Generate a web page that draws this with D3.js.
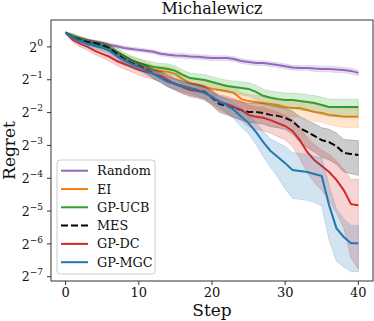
<!DOCTYPE html>
<html>
<head>
<meta charset="utf-8">
<script src="https://cdn.jsdelivr.net/npm/d3@7"></script>
<style>
  body { margin: 0; background: #fff; }
  svg { display: block; font-family: "DejaVu Serif", serif; }
</style>
</head>
<body>
<div id="chart"></div>
<script>
// regret per step, stored as log2(regret)
const steps = d3.range(0, 41);

const randomLog2 = [0.43,0.34,0.27,0.21,0.15,0.12,0.06,0.02,-0.03,-0.06,
  -0.09,-0.12,-0.15,-0.21,-0.24,-0.26,-0.27,-0.29,-0.30,-0.32,
  -0.34,-0.34,-0.34,-0.37,-0.43,-0.46,-0.49,-0.49,-0.52,-0.55,
  -0.59,-0.63,-0.64,-0.64,-0.66,-0.67,-0.67,-0.69,-0.70,-0.73,-0.79];
const eiLog2 = [0.43,0.34,0.24,0.15,0.09,0.03,-0.06,-0.21,-0.34,-0.43,
  -0.52,-0.61,-0.70,-0.73,-0.76,-0.82,-0.98,-1.10,-1.16,-1.22,
  -1.28,-1.31,-1.34,-1.40,-1.59,-1.65,-1.68,-1.71,-1.74,-1.77,
  -1.83,-1.86,-1.86,-1.92,-1.98,-2.01,-2.07,-2.10,-2.13,-2.13,-2.13];
const ucbLog2 = [0.43,0.34,0.24,0.15,0.09,0.03,-0.03,-0.15,-0.27,-0.40,
  -0.49,-0.55,-0.61,-0.64,-0.67,-0.73,-0.85,-0.95,-0.98,-1.01,
  -1.07,-1.13,-1.19,-1.22,-1.25,-1.28,-1.37,-1.49,-1.55,-1.59,
  -1.62,-1.62,-1.65,-1.68,-1.71,-1.77,-1.83,-1.83,-1.83,-1.83,-1.83];
const mesLog2 = [0.43,0.27,0.21,0.15,0.12,0.06,-0.03,-0.21,-0.37,-0.49,
  -0.58,-0.67,-0.82,-0.91,-1.04,-1.13,-1.22,-1.28,-1.31,-1.37,
  -1.55,-1.74,-1.80,-1.86,-1.92,-1.98,-1.98,-2.01,-2.07,-2.10,
  -2.16,-2.26,-2.47,-2.59,-2.71,-2.84,-2.90,-3.02,-3.23,-3.26,-3.29];
const dcLog2 = [0.43,0.21,0.09,0.00,-0.12,-0.21,-0.30,-0.43,-0.52,-0.61,
  -0.70,-0.76,-0.82,-0.88,-1.01,-1.13,-1.22,-1.31,-1.34,-1.40,
  -1.52,-1.68,-1.74,-1.83,-1.92,-2.07,-2.13,-2.16,-2.23,-2.32,
  -2.41,-2.56,-2.84,-3.20,-3.45,-3.63,-3.81,-4.05,-4.36,-4.79,-4.82];
const mgcLog2 = [0.43,0.27,0.18,0.09,0.03,-0.03,-0.12,-0.27,-0.40,-0.52,
  -0.61,-0.70,-0.82,-0.95,-1.07,-1.13,-1.19,-1.25,-1.31,-1.40,
  -1.52,-1.65,-1.77,-1.92,-2.13,-2.32,-2.59,-2.90,-3.17,-3.35,
  -3.54,-3.75,-3.78,-3.81,-3.87,-3.93,-4.82,-5.52,-5.79,-5.98,-5.98];

// spread of the band, as a fraction of the mean regret
const randomSpread = [0.02,0.03,0.03,0.03,0.03,0.04,0.04,0.04,0.04,0.04,
  0.04,0.04,0.04,0.04,0.04,0.05,0.05,0.05,0.05,0.05,
  0.05,0.05,0.05,0.05,0.05,0.05,0.05,0.05,0.05,0.05,
  0.05,0.05,0.05,0.05,0.06,0.06,0.06,0.06,0.06,0.06,0.06];
const eiSpread = [0.02,0.04,0.05,0.06,0.06,0.07,0.07,0.08,0.08,0.09,
  0.10,0.10,0.10,0.11,0.11,0.11,0.12,0.12,0.12,0.13,
  0.13,0.13,0.14,0.14,0.15,0.15,0.15,0.16,0.16,0.16,
  0.17,0.17,0.17,0.18,0.18,0.18,0.19,0.19,0.20,0.20,0.20];
const ucbSpread = [0.02,0.04,0.05,0.06,0.06,0.07,0.07,0.08,0.08,0.09,
  0.10,0.10,0.10,0.10,0.11,0.11,0.11,0.11,0.12,0.12,
  0.12,0.12,0.13,0.13,0.14,0.14,0.15,0.15,0.15,0.16,
  0.16,0.16,0.17,0.17,0.17,0.18,0.18,0.18,0.18,0.18,0.18];
const mesSpread = [0.02,0.04,0.05,0.05,0.06,0.06,0.07,0.07,0.08,0.08,
  0.08,0.09,0.10,0.11,0.12,0.12,0.13,0.13,0.14,0.14,
  0.15,0.16,0.17,0.18,0.19,0.20,0.21,0.21,0.22,0.22,
  0.22,0.24,0.26,0.28,0.29,0.30,0.31,0.32,0.33,0.34,0.35];
const dcSpread = [0.02,0.05,0.06,0.07,0.08,0.08,0.09,0.09,0.10,0.10,
  0.10,0.11,0.11,0.12,0.12,0.13,0.13,0.14,0.14,0.15,
  0.15,0.16,0.18,0.19,0.20,0.22,0.23,0.24,0.24,0.25,
  0.25,0.28,0.32,0.35,0.38,0.40,0.45,0.50,0.55,0.68,0.74];
const mgcSpread = [0.02,0.04,0.05,0.06,0.06,0.07,0.07,0.07,0.08,0.08,
  0.08,0.09,0.09,0.10,0.10,0.10,0.11,0.11,0.11,0.12,
  0.12,0.13,0.15,0.17,0.19,0.20,0.23,0.26,0.29,0.35,
  0.42,0.45,0.45,0.45,0.45,0.47,0.52,0.50,0.47,0.45,0.45];

const names = ["Random", "EI", "GP-UCB", "MES", "GP-DC", "GP-MGC"];
const colors = ["#9467bd", "#ff7f0e", "#2ca02c", "#000000", "#d62728", "#1f77b4"];
const means = [randomLog2, eiLog2, ucbLog2, mesLog2, dcLog2, mgcLog2];
const spreads = [randomSpread, eiSpread, ucbSpread, mesSpread, dcSpread, mgcSpread];

const xTicks = [0, 10, 20, 30, 40];
const yTickPowers = [0, -1, -2, -3, -4, -5, -6, -7];

const w = 374, h = 321;
const m = { left: 51, right: 1, top: 20, bottom: 40 };

const svg = d3.select("#chart").append("svg")
  .attr("width", w)
  .attr("height", h);

const x = d3.scaleLinear().domain([-2, 42]).range([m.left, w - m.right]);
const y = d3.scaleLog().base(2).domain([2 ** -7.13, 2 ** 0.82]).range([h - m.bottom, m.top]);

const series = names.map((name, i) => ({
  name: name,
  color: colors[i],
  dashed: name === "MES",
  points: steps.map((s, j) => {
    const mean = 2 ** means[i][j];
    const sd = mean * spreads[i][j];
    return { step: s, mean: mean, lo: mean - sd, hi: mean + sd };
  })
}));

svg.append("clipPath").attr("id", "clip")
  .append("rect")
  .attr("x", m.left).attr("y", m.top)
  .attr("width", w - m.left - m.right).attr("height", h - m.top - m.bottom);

const plot = svg.append("g").attr("clip-path", "url(#clip)");

const area = d3.area()
  .x((d) => x(d.step))
  .y0((d) => y(Math.max(d.lo, 2 ** -9)))
  .y1((d) => y(d.hi));

const line = d3.line()
  .x((d) => x(d.step))
  .y((d) => y(d.mean));

series.forEach((s) => {
  plot.append("path")
    .attr("d", area(s.points))
    .attr("fill", s.color)
    .attr("fill-opacity", 0.2)
    .attr("stroke", s.color)
    .attr("stroke-opacity", 0.2)
    .attr("stroke-width", 1);
  plot.append("path")
    .attr("d", line(s.points))
    .attr("fill", "none")
    .attr("stroke", s.color)
    .attr("stroke-width", 2)
    .attr("stroke-dasharray", s.dashed ? "7,3" : null);
});

// axes frame
svg.append("rect")
  .attr("x", m.left).attr("y", m.top)
  .attr("width", w - m.left - m.right).attr("height", h - m.top - m.bottom)
  .attr("fill", "none")
  .attr("stroke", "#333")
  .attr("stroke-width", 1);

// x ticks
const xt = svg.append("g").selectAll("g")
  .data(xTicks)
  .enter()
  .append("g")
  .attr("transform", (d) => "translate(" + x(d) + "," + (h - m.bottom) + ")");
xt.append("line").attr("y2", 4).attr("stroke", "#333");
xt.append("text")
  .attr("y", 16)
  .attr("text-anchor", "middle")
  .attr("font-size", 13)
  .attr("fill", "#111")
  .text((d) => d);

// y ticks, labels as 2^k
const yt = svg.append("g").selectAll("g")
  .data(yTickPowers)
  .enter()
  .append("g")
  .attr("transform", (d) => "translate(" + m.left + "," + y(2 ** d) + ")");
yt.append("line").attr("x2", -4).attr("stroke", "#333");
const ytxt = yt.append("text")
  .attr("x", -8)
  .attr("y", 4.7)
  .attr("text-anchor", "end")
  .attr("fill", "#111");
ytxt.append("tspan").attr("font-size", 12.5).text("2");
ytxt.append("tspan")
  .attr("font-size", 9)
  .attr("dy", -6)
  .text((d) => d < 0 ? "\u2212" + (-d) : d);

// title and axis labels
svg.append("text")
  .attr("x", (m.left + w - m.right) / 2)
  .attr("y", 13.5)
  .attr("text-anchor", "middle")
  .attr("font-size", 16)
  .attr("fill", "#111")
  .text("Michalewicz");

svg.append("text")
  .attr("x", (m.left + w - m.right) / 2)
  .attr("y", 316)
  .attr("text-anchor", "middle")
  .attr("font-size", 17)
  .attr("fill", "#111")
  .text("Step");

svg.append("text")
  .attr("transform", "translate(15," + ((m.top + h - m.bottom) / 2) + ") rotate(-90)")
  .attr("text-anchor", "middle")
  .attr("font-size", 17)
  .attr("fill", "#111")
  .text("Regret");

// legend
const lg = svg.append("g").attr("transform", "translate(57,160)");
lg.append("rect")
  .attr("width", 98).attr("height", 114)
  .attr("rx", 3)
  .attr("fill", "#fff").attr("fill-opacity", 0.8)
  .attr("stroke", "#ccc");
const rows = lg.selectAll(".row")
  .data(series)
  .enter()
  .append("g")
  .attr("transform", (d, i) => "translate(0," + (10.7 + i * 18.3) + ")");
rows.append("line")
  .attr("x1", 4).attr("x2", 31)
  .attr("stroke", (d) => d.color)
  .attr("stroke-width", 2)
  .attr("stroke-dasharray", (d) => d.dashed ? "7,3" : null);
rows.append("text")
  .attr("x", 40).attr("y", 4.5)
  .attr("font-size", 12.8)
  .attr("fill", "#111")
  .text((d) => d.name);
</script>
</body>
</html>
